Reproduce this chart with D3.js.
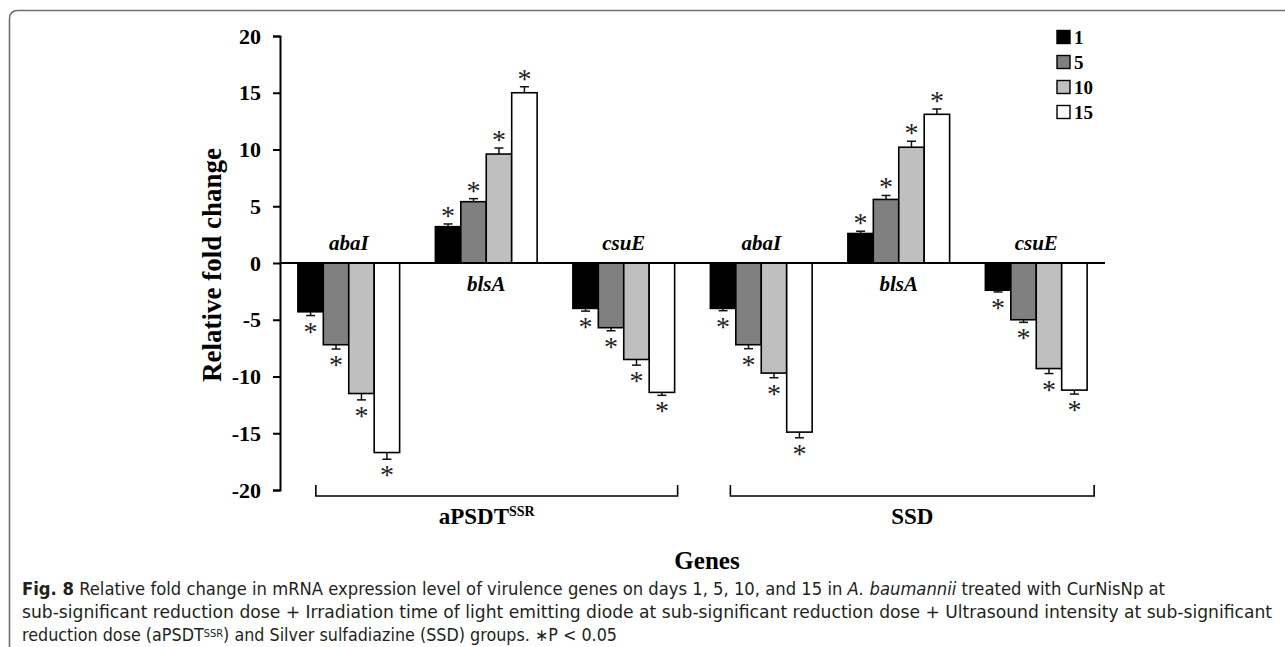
<!DOCTYPE html>
<html>
<head>
<meta charset="utf-8">
<script src="https://cdn.jsdelivr.net/npm/d3@7"></script>
<style>
  body { margin: 0; background: #fff; }
  svg { display: block; }
</style>
</head>
<body>
<svg class="chart"></svg>
<script>
// groups along the x axis (treatment + gene), one bar per day
var treatments = ["aPSDT", "SSD"];
var genes = ["abaI", "blsA", "csuE"];
var days = ["1", "5", "10", "15"];
var dayColors = ["#000000", "#808080", "#bfbfbf", "#ffffff"];

// relative fold change, one row per group, one value per day
var aPSDT_abaI = [-4.3, -7.2, -11.5, -16.7];
var aPSDT_blsA = [3.2, 5.4, 9.6, 15.0];
var aPSDT_csuE = [-4.0, -5.7, -8.5, -11.4];
var SSD_abaI = [-4.0, -7.2, -9.7, -14.9];
var SSD_blsA = [2.6, 5.6, 10.2, 13.1];
var SSD_csuE = [-2.4, -5.0, -9.3, -11.2];

// error bar sizes (same order)
var aPSDT_abaI_err = [0.33, 0.38, 0.56, 0.59];
var aPSDT_blsA_err = [0.24, 0.27, 0.53, 0.53];
var aPSDT_csuE_err = [0.24, 0.27, 0.5, 0.26];
var SSD_abaI_err = [0.2, 0.35, 0.41, 0.5];
var SSD_blsA_err = [0.2, 0.35, 0.53, 0.47];
var SSD_csuE_err = [0.15, 0.23, 0.44, 0.35];

var yTicks = [-20, -15, -10, -5, 0, 5, 10, 15, 20];

var values = [aPSDT_abaI, aPSDT_blsA, aPSDT_csuE, SSD_abaI, SSD_blsA, SSD_csuE];
var errors = [aPSDT_abaI_err, aPSDT_blsA_err, aPSDT_csuE_err, SSD_abaI_err, SSD_blsA_err, SSD_csuE_err];

var groups = [];
treatments.forEach(function (t, ti) {
  genes.forEach(function (g, gi) {
    groups.push({ id: t + "_" + g, treatment: t, gene: g, k: ti * genes.length + gi });
  });
});

var width = 1285;
var height = 647;
var serif = "'Liberation Serif', 'Times New Roman', serif";
var svg = d3.select(".chart").attr("width", width).attr("height", height);

// figure frame (rounded top-left corner, open on the right/bottom)
svg.append("path")
  .attr("d", "M9.5,647 V19 Q9.5,10.5 18,10.5 H1285")
  .attr("fill", "none")
  .attr("stroke", "#707070")
  .attr("stroke-width", 1.6);

var x0 = d3.scaleBand()
  .domain(groups.map(function (d) { return d.id; }))
  .range([280, 1105])
  .paddingInner(0.26)
  .paddingOuter(0.13);

var x1 = d3.scaleBand()
  .domain(days)
  .range([0, x0.bandwidth()]);

var y = d3.scaleLinear()
  .domain([-20, 20])
  .range([490, 36]);

// y axis
var yAxis = d3.axisLeft(y)
  .tickValues(yTicks)
  .tickFormat(function (d) { return String(d); })
  .tickSize(7)
  .tickPadding(12);

var gy = svg.append("g")
  .attr("transform", "translate(280,0)")
  .call(yAxis);
gy.select(".domain").attr("stroke", "#000").attr("stroke-width", 2);
gy.selectAll(".tick line").attr("stroke", "#000").attr("stroke-width", 2);
gy.selectAll(".tick text")
  .attr("font-family", serif)
  .attr("font-weight", "bold")
  .attr("font-size", 22)
  .attr("fill", "#000");

// bars
var bars = [];
groups.forEach(function (g) {
  days.forEach(function (d, i) {
    bars.push({ group: g.id, day: d, i: i, v: values[g.k][i], e: errors[g.k][i] });
  });
});

var bx = function (b) { return x0(b.group) + x1(b.day); };

svg.append("g").selectAll("rect")
  .data(bars)
  .enter().append("rect")
  .attr("x", bx)
  .attr("y", function (b) { return y(Math.max(0, b.v)); })
  .attr("width", x1.bandwidth())
  .attr("height", function (b) { return Math.abs(y(b.v) - y(0)); })
  .attr("fill", function (b) { return dayColors[b.i]; })
  .attr("stroke", "#000")
  .attr("stroke-width", 1.6);

// one-sided error bars
var errEnd = function (b) { return b.v >= 0 ? b.v + b.e : b.v - b.e; };
var eg = svg.append("g").attr("stroke", "#111").attr("stroke-width", 1.5);
eg.selectAll("line.stem")
  .data(bars)
  .enter().append("line")
  .attr("class", "stem")
  .attr("x1", function (b) { return bx(b) + x1.bandwidth() / 2; })
  .attr("x2", function (b) { return bx(b) + x1.bandwidth() / 2; })
  .attr("y1", function (b) { return y(b.v); })
  .attr("y2", function (b) { return y(errEnd(b)); });
eg.selectAll("line.cap")
  .data(bars)
  .enter().append("line")
  .attr("class", "cap")
  .attr("x1", function (b) { return bx(b) + x1.bandwidth() / 2 - 4.5; })
  .attr("x2", function (b) { return bx(b) + x1.bandwidth() / 2 + 4.5; })
  .attr("y1", function (b) { return y(errEnd(b)); })
  .attr("y2", function (b) { return y(errEnd(b)); });

// significance stars
svg.append("g").selectAll("text")
  .data(bars)
  .enter().append("text")
  .attr("x", function (b) { return bx(b) + x1.bandwidth() / 2; })
  .attr("y", function (b) { return y(errEnd(b)) + (b.v >= 0 ? -12 : 12) + 13; })
  .attr("text-anchor", "middle")
  .attr("font-family", serif)
  .attr("font-size", 28)
  .attr("fill", "#222")
  .text("*");

// zero line
svg.append("line")
  .attr("x1", 280).attr("x2", 1105)
  .attr("y1", y(0)).attr("y2", y(0))
  .attr("stroke", "#000")
  .attr("stroke-width", 2);

// gene labels: above the axis for down-regulated groups, below for up
svg.append("g").selectAll("text")
  .data(groups)
  .enter().append("text")
  .attr("x", function (g) { return x0(g.id) + x0.bandwidth() / 2; })
  .attr("y", function (g) { return d3.mean(values[g.k]) < 0 ? y(0) - 13 : y(0) + 28; })
  .attr("text-anchor", "middle")
  .attr("font-family", serif)
  .attr("font-weight", "bold")
  .attr("font-style", "italic")
  .attr("font-size", 21)
  .text(function (g) { return g.gene; });

// treatment brackets
treatments.forEach(function (t, ti) {
  var first = groups[ti * genes.length].id;
  var last = groups[ti * genes.length + genes.length - 1].id;
  var xa = x0(first) + (ti === 0 ? 18 : 20);
  var xb = x0(last) + x0.bandwidth() + (ti === 0 ? 3 : 7);
  svg.append("path")
    .attr("d", "M" + xa + ",485 V496 H" + xb + " V485")
    .attr("fill", "none")
    .attr("stroke", "#000")
    .attr("stroke-width", 1.6);
  var lab = svg.append("text")
    .attr("x", (xa + xb) / 2 + (ti === 0 ? -10 : 0))
    .attr("y", 524)
    .attr("text-anchor", "middle")
    .attr("font-family", serif)
    .attr("font-weight", "bold")
    .attr("font-size", 23);
  lab.append("tspan").text(t);
  if (ti === 0) {
    lab.append("tspan").attr("dy", -8).attr("font-size", 14).text("SSR");
  }
});

// axis titles
svg.append("text")
  .attr("transform", "translate(221,265) rotate(-90)")
  .attr("text-anchor", "middle")
  .attr("font-family", serif)
  .attr("font-weight", "bold")
  .attr("font-size", 27)
  .text("Relative fold change");

svg.append("text")
  .attr("x", 707)
  .attr("y", 569)
  .attr("text-anchor", "middle")
  .attr("font-family", serif)
  .attr("font-weight", "bold")
  .attr("font-size", 25)
  .text("Genes");

// legend
var legend = svg.append("g").selectAll("g")
  .data(days)
  .enter().append("g")
  .attr("transform", function (d, i) { return "translate(1057," + (43.5 + i * 25) + ")"; });
legend.append("rect")
  .attr("x", 0).attr("y", -13)
  .attr("width", 13).attr("height", 13)
  .attr("fill", function (d, i) { return dayColors[i]; })
  .attr("stroke", "#000")
  .attr("stroke-width", 1.4);
legend.append("text")
  .attr("x", 17).attr("y", 0)
  .attr("font-family", serif)
  .attr("font-weight", "bold")
  .attr("font-size", 19)
  .text(function (d) { return d; });

// caption
var capFont = "'DejaVu Sans Condensed', 'Liberation Sans Narrow', 'Open Sans', sans-serif";
var cap1 = svg.append("text")
  .attr("x", 22).attr("y", 595)
  .attr("font-family", capFont).attr("font-size", 17).attr("fill", "#231f20")
  .attr("textLength", 1143).attr("lengthAdjust", "spacingAndGlyphs");
cap1.append("tspan").attr("font-weight", "bold").text("Fig. 8");
cap1.append("tspan").text("  Relative fold change in mRNA expression level of virulence genes on days 1, 5, 10, and 15 in ");
cap1.append("tspan").attr("font-style", "italic").text("A. baumannii");
cap1.append("tspan").text(" treated with CurNisNp at");

svg.append("text")
  .attr("x", 22).attr("y", 618)
  .attr("font-family", capFont).attr("font-size", 17).attr("fill", "#231f20")
  .attr("textLength", 1250).attr("lengthAdjust", "spacingAndGlyphs")
  .text("sub-significant reduction dose + Irradiation time of light emitting diode at sub-significant reduction dose + Ultrasound intensity at sub-significant");

var cap3 = svg.append("text")
  .attr("x", 22).attr("y", 641)
  .attr("font-family", capFont).attr("font-size", 17).attr("fill", "#231f20")
  .attr("textLength", 595).attr("lengthAdjust", "spacingAndGlyphs");
cap3.append("tspan").text("reduction dose (aPSDT");
cap3.append("tspan").attr("dy", -4).attr("font-size", 10.5).text("SSR");
cap3.append("tspan").attr("dy", 4).text(") and Silver sulfadiazine (SSD) groups. \u2217P < 0.05");
</script>
</body>
</html>
